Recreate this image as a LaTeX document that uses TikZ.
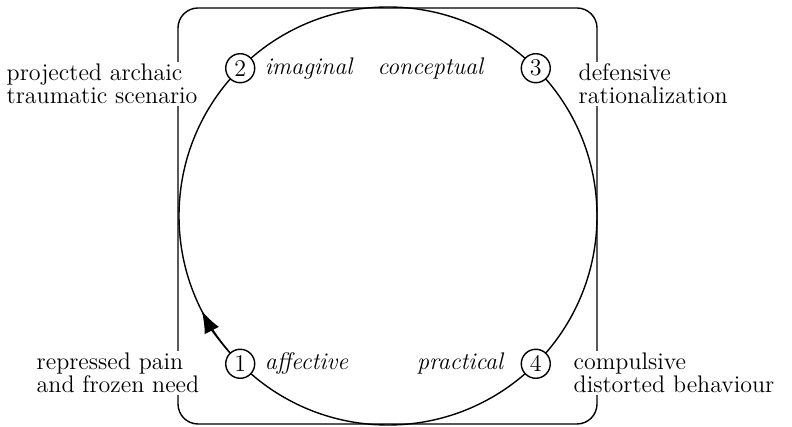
\documentclass[tikz,border=0pt]{standalone}
\usepackage{tikz}
\usetikzlibrary{arrows.meta,positioning,calc}

\begin{document}
\begin{tikzpicture}[
    x=0.5pt, y=0.5pt, line width=0.7pt,
    stage/.style={circle, draw, fill=white, inner sep=0pt,
      minimum size=14.5pt, font=\fontsize{12}{12}\selectfont},
    phase/.style={font=\fontsize{12}{12}\selectfont\itshape},
    state/.style={fill=white, align=left, inner sep=1pt,
      font=\fontsize{12}{11.5}\selectfont}
  ]
  \useasboundingbox (0,0) rectangle (792,427);
  \coordinate (c) at (388,211);
  % frame and cycle
  \draw[rounded corners=10pt] (178,3) rectangle (597,419);
  \draw (c) circle[radius=209];
  \draw[-{Latex[length=11pt,width=8pt]}] ($(c)+(224:209)$)
    arc[start angle=224, end angle=207, radius=209];
  % stages
  \node[stage] (n1) at ($(c)+(225:209)$) {1};
  \node[stage] (n2) at ($(c)+(135:209)$) {2};
  \node[stage] (n3) at ($(c)+(45:209)$) {3};
  \node[stage] (n4) at ($(c)+(-45:209)$) {4};
  \node[phase, right=1pt of n1] (p1) {affective};
  \node[phase, right=1pt of n2] (p2) {imaginal};
  \node[phase, left=15pt of n3] (p3) {conceptual};
  \node[phase, left=5pt of n4] (p4) {practical};
  % states
  \node[state, anchor=west] (s1) at (34,54) {repressed pain\\and frozen need};
  \node[state, anchor=west] (s2) at (4,343) {projected archaic\\traumatic scenario};
  \node[state, anchor=west] (s3) at (576,343) {defensive\\rationalization};
  \node[state, anchor=west] (s4) at (571,54) {compulsive\\distorted behaviour};
\end{tikzpicture}
\end{document}
